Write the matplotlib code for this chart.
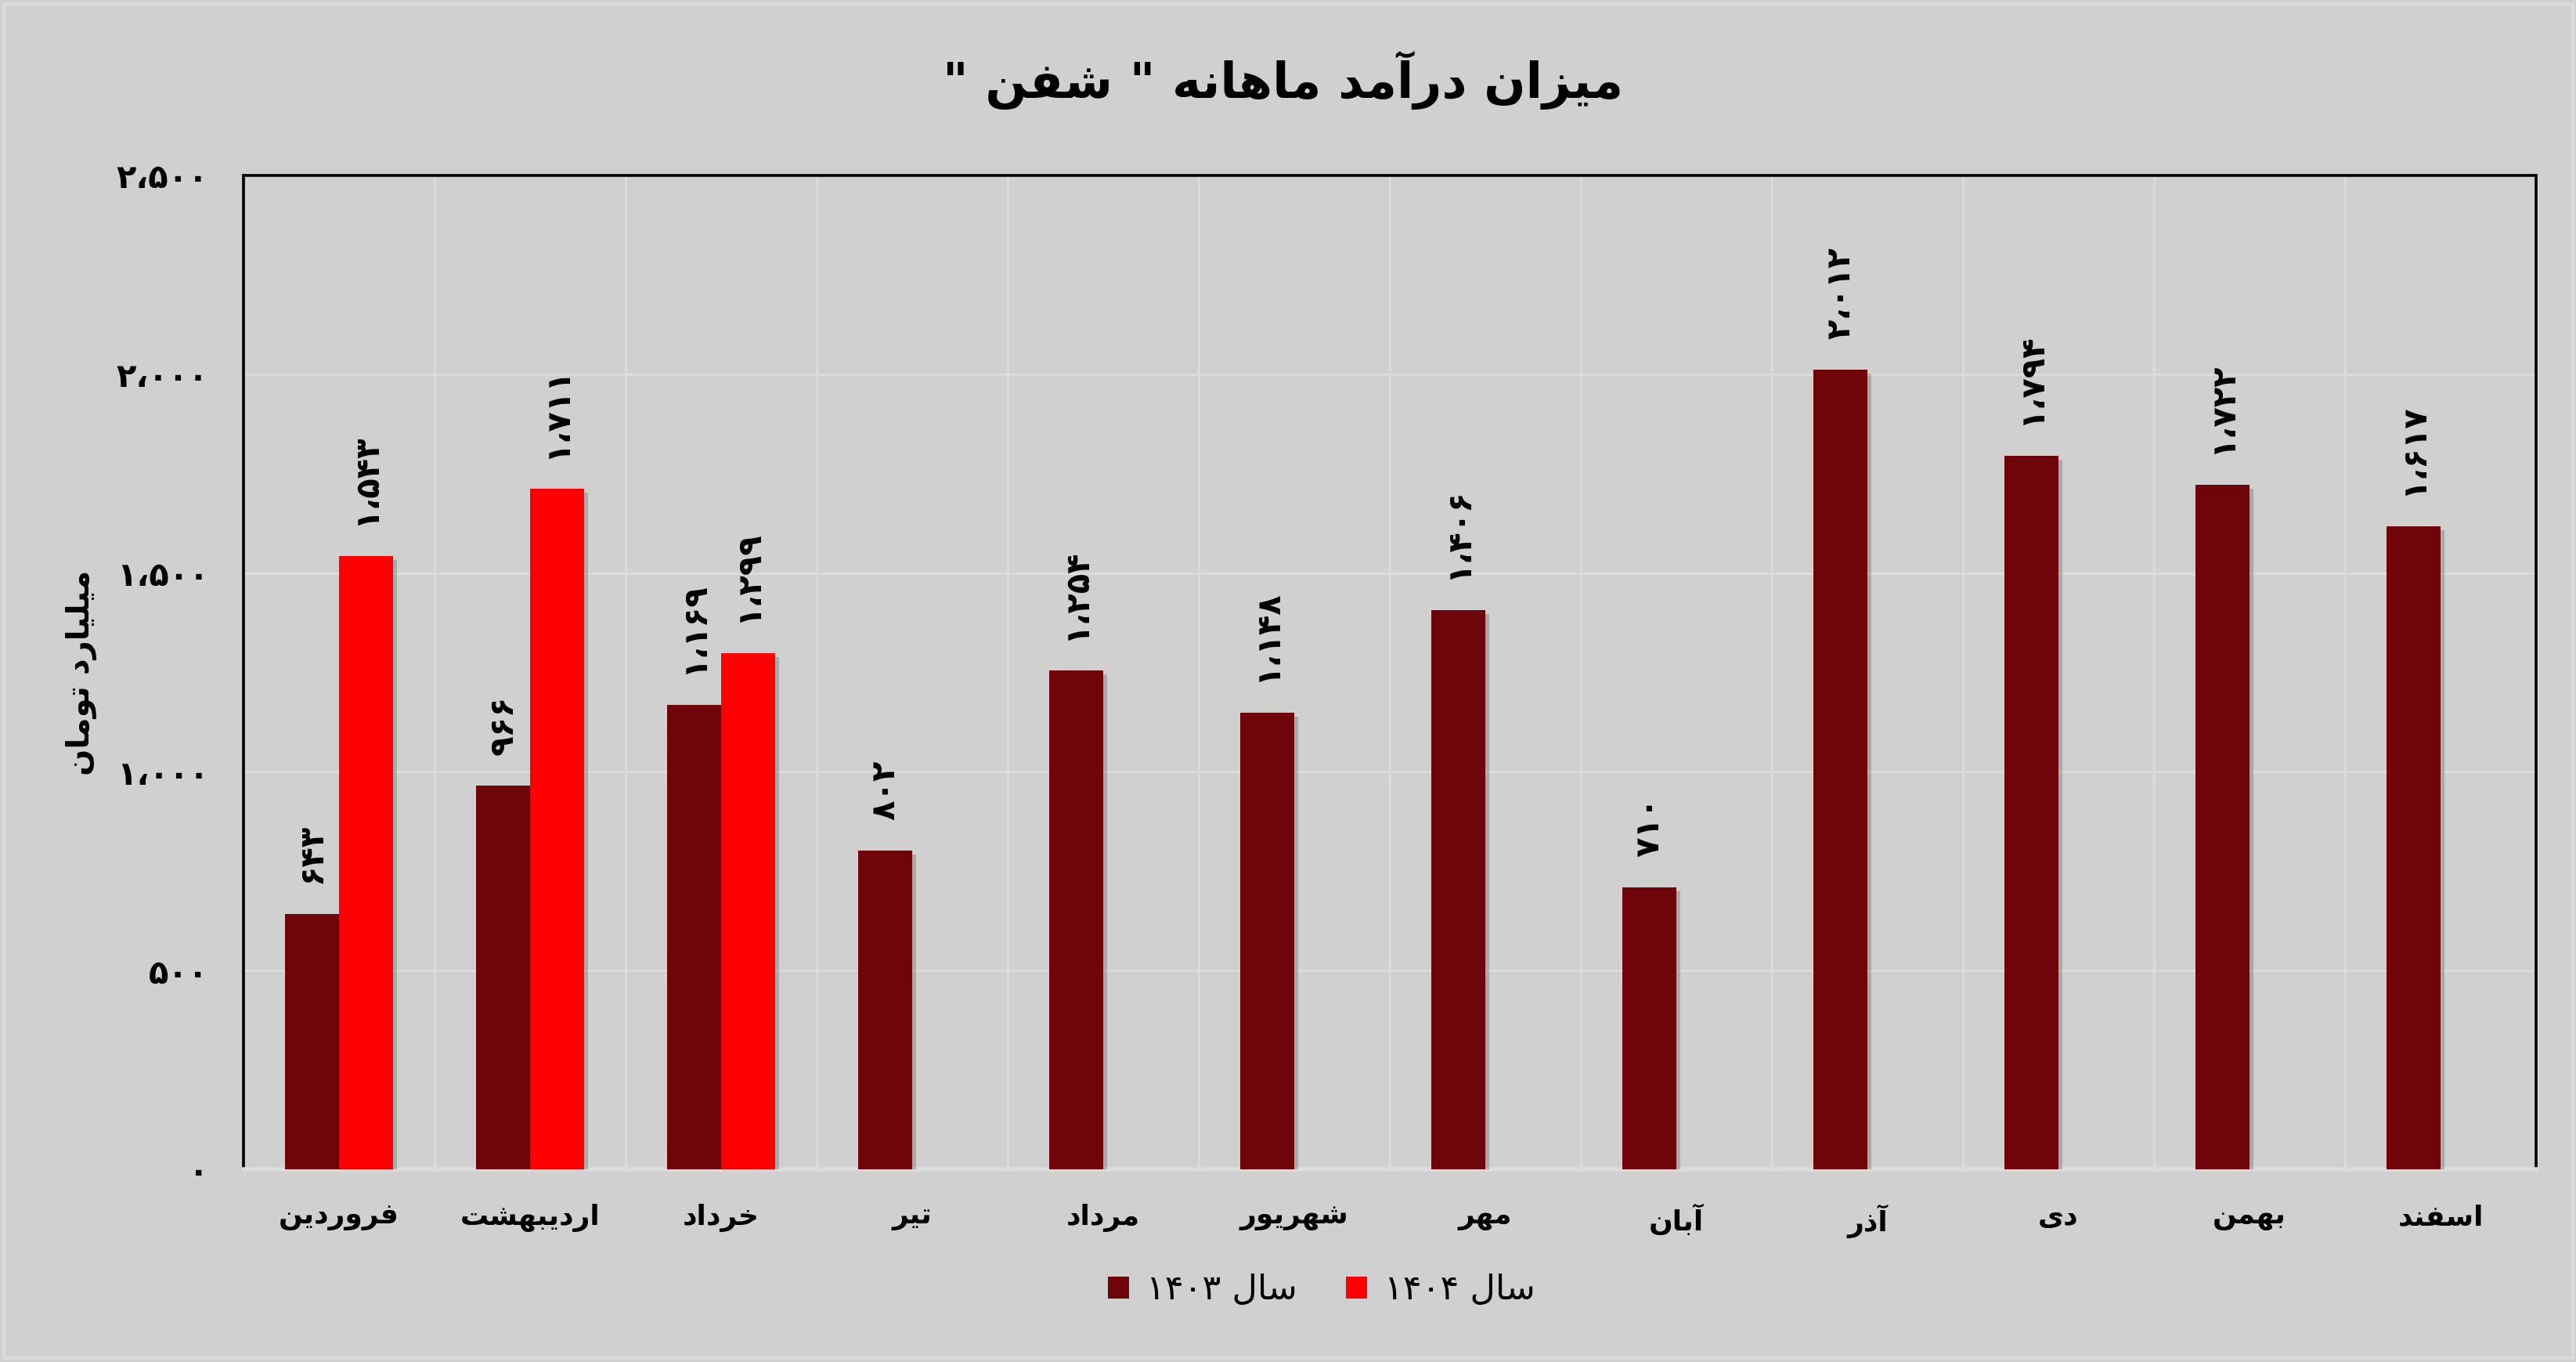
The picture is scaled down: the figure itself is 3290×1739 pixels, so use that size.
import re
import numpy as np
import matplotlib
matplotlib.use("Agg")
import matplotlib.pyplot as plt
import matplotlib.patheffects as pe
from matplotlib.patches import Rectangle, Patch

# ---------------- data ----------------
months = ['فروردین', 'اردیبهشت', 'خرداد', 'تیر', 'مرداد', 'شهریور',
          'مهر', 'آبان', 'آذر', 'دی', 'بهمن', 'اسفند']
rev_1403 = [643, 966, 1169, 802, 1254, 1148, 1406, 710, 2012, 1794, 1722, 1617]
rev_1404 = [1543, 1711, 1299, None, None, None, None, None, None, None, None, None]
series_names = ['سال ۱۴۰۳', 'سال ۱۴۰۴']
y_ticks = [0, 500, 1000, 1500, 2000, 2500]
title_text = 'میزان درآمد ماهانه " شفن "'
ylabel_text = 'میلیارد تومان'

# ---------------- Persian shaping helpers ----------------
FORMS = {
    'ا': ('\uFE8D', '\uFE8E', None, None),
    'آ': ('\uFE81', '\uFE82', None, None),
    'ب': ('\uFE8F', '\uFE90', '\uFE91', '\uFE92'),
    'پ': ('\uFB56', '\uFB57', '\uFB58', '\uFB59'),
    'ت': ('\uFE95', '\uFE96', '\uFE97', '\uFE98'),
    'ث': ('\uFE99', '\uFE9A', '\uFE9B', '\uFE9C'),
    'ج': ('\uFE9D', '\uFE9E', '\uFE9F', '\uFEA0'),
    'چ': ('\uFB7A', '\uFB7B', '\uFB7C', '\uFB7D'),
    'ح': ('\uFEA1', '\uFEA2', '\uFEA3', '\uFEA4'),
    'خ': ('\uFEA5', '\uFEA6', '\uFEA7', '\uFEA8'),
    'د': ('\uFEA9', '\uFEAA', None, None),
    'ذ': ('\uFEAB', '\uFEAC', None, None),
    'ر': ('\uFEAD', '\uFEAE', None, None),
    'ز': ('\uFEAF', '\uFEB0', None, None),
    'ژ': ('\uFB8A', '\uFB8B', None, None),
    'س': ('\uFEB1', '\uFEB2', '\uFEB3', '\uFEB4'),
    'ش': ('\uFEB5', '\uFEB6', '\uFEB7', '\uFEB8'),
    'ص': ('\uFEB9', '\uFEBA', '\uFEBB', '\uFEBC'),
    'ض': ('\uFEBD', '\uFEBE', '\uFEBF', '\uFEC0'),
    'ط': ('\uFEC1', '\uFEC2', '\uFEC3', '\uFEC4'),
    'ظ': ('\uFEC5', '\uFEC6', '\uFEC7', '\uFEC8'),
    'ع': ('\uFEC9', '\uFECA', '\uFECB', '\uFECC'),
    'غ': ('\uFECD', '\uFECE', '\uFECF', '\uFED0'),
    'ف': ('\uFED1', '\uFED2', '\uFED3', '\uFED4'),
    'ق': ('\uFED5', '\uFED6', '\uFED7', '\uFED8'),
    'ک': ('\uFB8E', '\uFB8F', '\uFB90', '\uFB91'),
    'گ': ('\uFB92', '\uFB93', '\uFB94', '\uFB95'),
    'ل': ('\uFEDD', '\uFEDE', '\uFEDF', '\uFEE0'),
    'م': ('\uFEE1', '\uFEE2', '\uFEE3', '\uFEE4'),
    'ن': ('\uFEE5', '\uFEE6', '\uFEE7', '\uFEE8'),
    'و': ('\uFEED', '\uFEEE', None, None),
    'ه': ('\uFEE9', '\uFEEA', '\uFEEB', '\uFEEC'),
    'ی': ('\uFBFC', '\uFBFD', '\uFBFE', '\uFBFF'),
    'ي': ('\uFEF1', '\uFEF2', '\uFEF3', '\uFEF4'),
}
DIGITS = '0123456789۰۱۲۳۴۵۶۷۸۹'


def fa(s):
    out = []
    n = len(s)
    for i, c in enumerate(s):
        f = FORMS.get(c)
        if f is None:
            out.append(c)
            continue
        prev = s[i - 1] if i > 0 else ''
        nxt = s[i + 1] if i < n - 1 else ''
        jp = prev in FORMS and FORMS[prev][2] is not None
        jn = f[2] is not None and nxt in FORMS
        if jp and jn:
            out.append(f[3])
        elif jp:
            out.append(f[1])
        elif jn:
            out.append(f[2])
        else:
            out.append(f[0])
    shaped = ''.join(out)
    runs = re.findall(r'[0-9۰-۹][0-9۰-۹٬،,.]*[0-9۰-۹]|[0-9۰-۹]|[^0-9۰-۹]+', shaped)
    res = []
    for r in reversed(runs):
        if r[0] in DIGITS:
            res.append(r)
        else:
            res.append(r[::-1])
    return ''.join(res)


def fa_num(v):
    s = f"{int(v):,}".replace(',', '،')
    return s.translate(str.maketrans('0123456789', '۰۱۲۳۴۵۶۷۸۹'))


# ---------------- style ----------------
plt.rcParams['font.family'] = ['DejaVu Sans']
BG = '#D0D0D0'
GRID = '#DCDCDC'
C1403 = '#6E050A'
C1404 = '#FF0000'

fig = plt.figure(figsize=(3291 / 200, 1739 / 200), dpi=200, facecolor=BG)
ax = fig.add_axes([0.0945, 0.1415, 0.8897, 0.7297])
ax.set_facecolor(BG)

x = np.arange(len(months))
w = 0.283
v1403 = np.array(rev_1403, dtype=float)
v1404 = np.array([np.nan if v is None else v for v in rev_1404], dtype=float)

shadow = [pe.SimplePatchShadow(offset=(1.8, -1.8), shadow_rgbFace='#505050', alpha=0.3), pe.Normal()]
b1 = ax.bar(x - w / 2, v1403, w, color=C1403, zorder=3)
b2 = ax.bar(x + w / 2, np.nan_to_num(v1404), w, color=C1404, zorder=3)
for b in list(b1) + list(b2):
    b.set_path_effects(shadow)

LBL_FS = 15
for xi, v in zip(x - w / 2, v1403):
    ax.annotate(fa_num(v), (xi, v), xytext=(0, 14), textcoords='offset points',
                rotation=90, ha='center', va='bottom', fontsize=LBL_FS,
                fontweight='bold', color='black', zorder=4)
for xi, v in zip(x + w / 2, v1404):
    if np.isnan(v):
        continue
    ax.annotate(fa_num(v), (xi, v), xytext=(0, 14), textcoords='offset points',
                rotation=90, ha='center', va='bottom', fontsize=LBL_FS,
                fontweight='bold', color='black', zorder=4)

ax.set_xlim(-0.5, len(months) - 0.5)
ax.set_ylim(0, 2500)
ax.set_yticks(y_ticks)
ax.set_yticklabels([fa_num(t) for t in y_ticks], fontsize=15, fontweight='bold')
ax.set_xticks(x)
ax.set_xticklabels([fa(m) for m in months], fontsize=13, fontweight='bold')
ax.tick_params(axis='both', length=0)
ax.tick_params(axis='y', pad=16)
ax.tick_params(axis='x', pad=16)

for yv in y_ticks[1:-1]:
    ax.axhline(yv, color=GRID, lw=1.1, zorder=1)
for xv in np.arange(0.5, len(months) - 0.5, 1.0):
    ax.axvline(xv, color=GRID, lw=1.0, zorder=1)

for side in ['left', 'top', 'right']:
    ax.spines[side].set_color('black')
    ax.spines[side].set_linewidth(1.3)
ax.spines['bottom'].set_color(GRID)
ax.spines['bottom'].set_linewidth(2.0)

ax.set_ylabel(fa(ylabel_text), fontsize=14.5, fontweight='bold')
ax.yaxis.set_label_coords(-0.064, 0.5)

fig.text(0.498, 0.941, fa(title_text), ha='center', va='center',
         fontsize=22.5, fontweight='bold', color='black')

handles = [Patch(facecolor=C1403), Patch(facecolor=C1404)]
leg = fig.legend(handles=handles, labels=[fa(series_names[0]), fa(series_names[1])],
                 loc='center', bbox_to_anchor=(0.513, 0.053), ncol=2, frameon=False,
                 fontsize=16, handlelength=0.6, handleheight=0.6, handletextpad=0.5,
                 columnspacing=1.4)

fig.patches.append(Rectangle((0.0015, 0.003), 0.997, 0.994, transform=fig.transFigure,
                             fill=False, edgecolor='#DADADA', lw=1.5))

fig.savefig('out.png', dpi=200, facecolor=BG)
